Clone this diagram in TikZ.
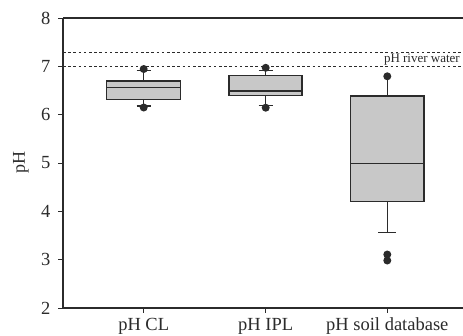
\documentclass[tikz,border=0pt]{standalone}
\usepackage{fontspec}
\setmainfont{Liberation Serif}
\definecolor{ink}{HTML}{2B2B2B}
\definecolor{boxfill}{HTML}{C8C8C8}
\begin{document}
\begin{tikzpicture}[x=1pt,y=-1pt,
  axis/.style={draw=ink,line width=1.1pt},
  boxstyle/.style={draw=ink,fill=boxfill,line width=1.1pt},
  whisk/.style={draw=ink,line width=1.1pt},
  refline/.style={draw=ink,line width=0.9pt,dash pattern=on 2.6pt off 2.6pt},
  outlier/.style={fill=ink,draw=none},
  ticklab/.style={text=ink,font=\fontsize{18.5}{18.5}\selectfont,inner sep=0pt},
  catlab/.style={text=ink,font=\fontsize{18.5}{18.5}\selectfont,inner sep=0pt,anchor=base}]
\useasboundingbox (0,0) rectangle (463,335);
% axes
\draw[axis] (63,18) -- (63,308) -- (463,308);
\draw[axis] (63,18) -- (463,18);
% y ticks and labels
\foreach \v/\yy in {8/18,7/66.3,6/114.7,5/163,4/211.3,3/259.7,2/308}{
  \draw[axis,line width=0.9pt] (58,\yy) -- (63,\yy);
  \node[ticklab,anchor=east] (y\v) at (50.5,\yy) {\v};
}
% x ticks
\foreach \xx in {143.7,265.7,387.3}{
  \draw[axis,line width=0.9pt] (\xx,308) -- (\xx,313);
}
\node[catlab] (lcl) at (143.7,330.5) {pH CL};
\node[catlab] (lipl) at (265.7,330.5) {pH IPL};
\node[catlab] (lsoil) at (387.3,330.5) {pH soil database};
\node[text=ink,rotate=90,font=\fontsize{18}{18}\selectfont,inner sep=0pt] (ylab) at (21,162.5) {pH};
% reference lines
\draw[refline] (63,52.3) -- (463,52.3);
\draw[refline] (63,66.5) -- (463,66.5);
\node[text=ink,font=\fontsize{13}{13}\selectfont,inner sep=0pt,anchor=base east] (river) at (460,62) {pH river water};
% pH CL
\draw[whisk] (143.7,70.7) -- (143.7,81);
\draw[whisk] (136.7,70.7) -- (150.7,70.7);
\draw[whisk] (143.7,99.3) -- (143.7,106);
\draw[whisk] (136.7,106) -- (150.7,106);
\draw[boxstyle] (106.7,81) rectangle (180.3,99.3);
\draw[whisk] (106.7,87.3) -- (180.3,87.3);
\fill[outlier] (143.7,69) circle (4);
\fill[outlier] (143.7,107.5) circle (4);
% pH IPL
\draw[whisk] (265.7,70.7) -- (265.7,75.7);
\draw[whisk] (258.7,70.7) -- (272.7,70.7);
\draw[whisk] (265.7,95.7) -- (265.7,105.7);
\draw[whisk] (258.7,105.7) -- (272.7,105.7);
\draw[boxstyle] (229,75.7) rectangle (302,95.7);
\draw[whisk] (229,91) -- (302,91);
\fill[outlier] (265.7,67.8) circle (4);
\fill[outlier] (265.7,107.7) circle (4);
% pH soil database
\draw[whisk] (387.3,76.3) -- (387.3,96);
\draw[whisk] (387.3,201.5) -- (387.3,232.7);
\draw[whisk] (378.3,232.7) -- (396.3,232.7);
\draw[boxstyle] (350.7,96) rectangle (424,201.5);
\draw[whisk] (350.7,163.3) -- (424,163.3);
\fill[outlier] (387.3,76.3) circle (4);
\fill[outlier] (387.3,254.5) circle (4);
\fill[outlier] (387.3,260.5) circle (4);
\end{tikzpicture}
\end{document}
